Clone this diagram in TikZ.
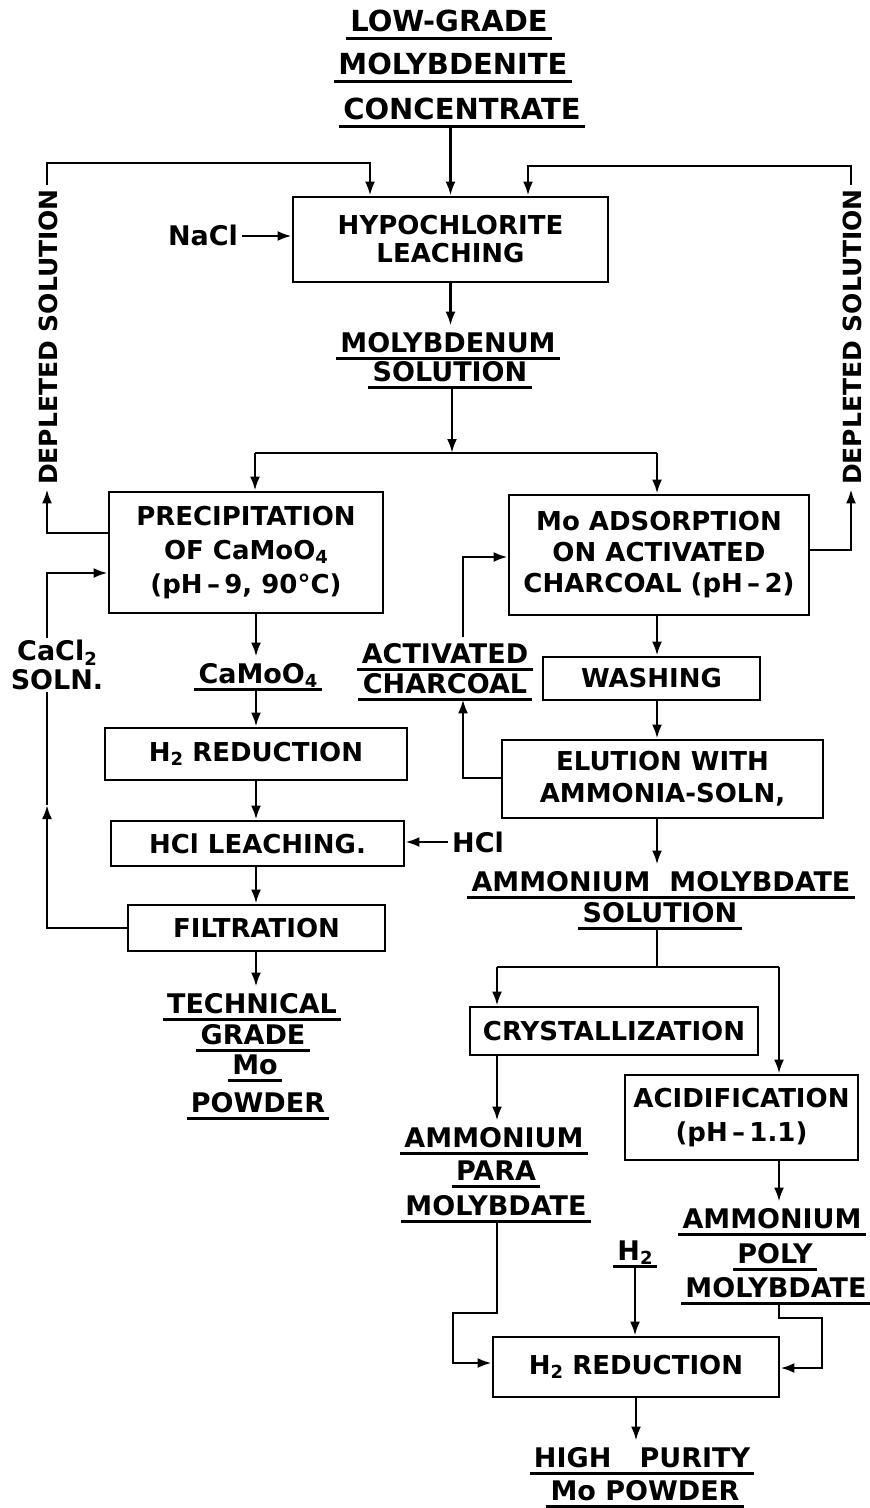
\documentclass[tikz,border=0pt]{standalone}
\usepackage{fontspec}
\setmainfont{DejaVu Sans}
\usetikzlibrary{arrows.meta}
\newcommand\sbs[1]{\raisebox{-0.3ex}{\fontsize{9}{9}\selectfont #1}}
\begin{document}
\begin{tikzpicture}[x=0.5pt,y=-0.5pt,
  line/.style={line width=1.3pt},
  arr/.style={line width=1.3pt,-{Latex[length=7pt,width=5pt]}},
  ul/.style={line width=1.4pt},
  box/.style={draw,line width=1.4pt,align=center,inner sep=0pt,font=\fontsize{13}{16}\selectfont\bfseries},
  lab/.style={anchor=base,inner xsep=2pt,inner ysep=3pt,text depth=0pt,text height=10pt,font=\fontsize{13.5}{16}\selectfont\bfseries},
  ttl/.style={lab,font=\fontsize{14.5}{17}\selectfont\bfseries}]
\useasboundingbox (0,0) rectangle (869,1508);
% boxes
\node[box,minimum width=157.5pt,minimum height=42.5pt,font=\fontsize{13}{14}\selectfont\bfseries] (hyp) at (450.5,239.5) {HYPOCHLORITE\\LEACHING};
\node[box,minimum width=137pt,minimum height=60.5pt,font=\fontsize{13}{17}\selectfont\bfseries] (prec) at (246,552.5) {PRECIPITATION\\OF CaMoO\sbs{4}\\(pH\,–\,9, 90°C)};
\node[box,minimum width=150pt,minimum height=60pt,font=\fontsize{13}{15.5}\selectfont\bfseries] (ads) at (659,555) {Mo ADSORPTION\\ON ACTIVATED\\CHARCOAL (pH\,–\,2)};
\node[box,minimum width=151pt,minimum height=26pt] (h2a) at (256,754) {H\sbs{2} REDUCTION};
\node[box,minimum width=146.5pt,minimum height=22.5pt] (hcl) at (257.5,843.5) {HCl LEACHING.};
\node[box,minimum width=128.5pt,minimum height=23pt] (filt) at (256.5,928) {FILTRATION};
\node[box,minimum width=108.5pt,minimum height=21.5pt] (wash) at (651.5,678.5) {WASHING};
\node[box,minimum width=160.5pt,minimum height=39pt] (elu) at (662.5,779) {ELUTION WITH\\AMMONIA-SOLN,};
\node[box,minimum width=144pt,minimum height=24pt] (cryst) at (614,1031) {CRYSTALLIZATION};
\node[box,minimum width=116.5pt,minimum height=42.5pt,font=\fontsize{13}{17}\selectfont\bfseries] (acid) at (741.5,1117.5) {ACIDIFICATION\\(pH\,–\,1.1)};
\node[box,minimum width=143pt,minimum height=30pt] (h2b) at (636,1367) {H\sbs{2} REDUCTION};
% labels
\node[ttl] (t1) at (449,32) {LOW-GRADE};
\node[ttl] (t2) at (453,75) {MOLYBDENITE};
\node[ttl] (t3) at (462,120) {CONCENTRATE};
\node[lab] (nacl) at (203,246) {NaCl};
\node[lab] (m1) at (448,352) {MOLYBDENUM};
\node[lab] (m2) at (450,381) {SOLUTION};
\node[lab,rotate=90,anchor=center,font=\fontsize{12.5}{15}\selectfont\bfseries] (depL) at (47,337) {DEPLETED SOLUTION};
\node[lab,rotate=90,anchor=center,font=\fontsize{12.5}{15}\selectfont\bfseries] (depR) at (851,337) {DEPLETED SOLUTION};
\node[align=center,inner sep=1pt,font=\fontsize{13.5}{14.5}\selectfont\bfseries] (cacl) at (57,665) {CaCl\sbs{2}\\SOLN.};
\node[lab] (cm) at (258,683) {CaMoO\sbs{4}};
\node[lab] (ac1) at (445,663) {ACTIVATED};
\node[lab] (ac2) at (445,693) {CHARCOAL};
\node[lab] (hcltxt) at (478,852) {HCl};
\node[lab] (tg1) at (252,1013) {TECHNICAL};
\node[lab] (tg2) at (253,1044) {GRADE};
\node[lab] (tg3) at (255,1074) {Mo};
\node[lab] (tg4) at (258,1112) {POWDER};
\node[lab] (am1) at (661,891) {AMMONIUM\ \ MOLYBDATE};
\node[lab] (am2) at (660,922) {SOLUTION};
\node[lab] (pa1) at (494,1147) {AMMONIUM};
\node[lab] (pa2) at (496,1180) {PARA};
\node[lab] (pa3) at (496,1215) {MOLYBDATE};
\node[lab] (po1) at (772,1228) {AMMONIUM};
\node[lab] (po2) at (775,1263) {POLY};
\node[lab] (po3) at (776,1297) {MOLYBDATE};
\node[lab] (h2l) at (635,1260) {H\sbs{2}};
\node[lab] (hp1) at (642,1467) {HIGH\ \ \ PURITY};
\node[lab] (hp2) at (645,1500) {Mo POWDER};
\foreach \n in {t1,t2,t3,m1,m2,cm,ac1,ac2,tg1,tg2,tg3,tg4,am1,am2,pa1,pa2,pa3,po1,po2,po3,h2l,hp1,hp2}
  \draw[ul] (\n.south west) -- (\n.south east);
% coordinates
\coordinate (cL) at (256,0);
\coordinate (cR) at (657,0);
\coordinate (j1) at (452,453);
\coordinate (j1L) at (255,453);
\coordinate (j1R) at (657,453);
\coordinate (dl) at (0,533);
\coordinate (dr) at (0,550);
\coordinate (topL) at (370,163);
\coordinate (topR) at (528,166);
\coordinate (cmid) at (47,805);
\coordinate (cin) at (0,573);
\coordinate (acx) at (463,0);
\coordinate (ay1) at (0,778);
\coordinate (ay2) at (0,557);
\coordinate (j2) at (657,967);
\coordinate (j2L) at (497,967);
\coordinate (j2R) at (779,967);
\coordinate (lp1) at (453,1313);
\coordinate (lp2) at (453,1363);
\coordinate (rp1) at (822,1318);
\coordinate (rp2) at (822,1368);
% connectors
\draw[arr] (t3.south -| hyp.north) -- (hyp.north);
\draw[arr] (nacl.east) -- (nacl.east -| hyp.west);
\draw[arr] (hyp.south) -- (hyp.south |- m1.north);
\draw[arr] (m2.south -| j1) -- (j1);
\draw[line] (j1L) -- (j1R);
\draw[arr] (j1L) -- (j1L |- prec.north);
\draw[arr] (j1R) -- (j1R |- ads.north);
\draw[arr] (prec.west |- dl) -| (depL.west);
\draw[arr] (depL.east) |- (topL) -- (topL |- hyp.north);
\draw[arr] (ads.east |- dr) -| (depR.west);
\draw[arr] (depR.east) |- (topR) -- (topR |- hyp.north);
\draw[arr] (filt.west) -| (cmid);
\draw[line] (cmid) -- (cmid |- cacl.south);
\draw[arr] (cacl.north -| cmid) |- (prec.west |- cin);
\draw[arr] (prec.south -| cL) -- (cm.north -| cL);
\draw[arr] (cm.south -| cL) -- (h2a.north -| cL);
\draw[arr] (h2a.south -| cL) -- (hcl.north -| cL);
\draw[arr] (hcltxt.west) -- (hcltxt.west -| hcl.east);
\draw[arr] (hcl.south -| cL) -- (filt.north -| cL);
\draw[arr] (filt.south -| cL) -- (tg1.north -| cL);
\draw[arr] (ads.south -| cR) -- (wash.north -| cR);
\draw[arr] (wash.south -| cR) -- (elu.north -| cR);
\draw[arr] (elu.south -| cR) -- (am1.north -| cR);
\draw[arr] (elu.west |- ay1) -| (ac2.south -| acx);
\draw[arr] (ac1.north -| acx) |- (ads.west |- ay2);
\draw[line] (am2.south -| j2) -- (j2);
\draw[line] (j2L) -- (j2R);
\draw[arr] (j2L) -- (j2L |- cryst.north);
\draw[arr] (j2R) -- (j2R |- acid.north);
\draw[arr] (cryst.south -| j2L) -- (pa1.north -| j2L);
\draw[arr] (acid.south -| j2R) -- (po1.north -| j2R);
\draw[arr] (h2l.south) -- (h2l.south |- h2b.north);
\draw[arr] (pa3.south -| j2L) |- (lp1) |- (h2b.west |- lp2);
\draw[arr] (po3.south -| j2R) |- (rp1) |- (h2b.east |- rp2);
\draw[arr] (h2b.south) -- (h2b.south |- hp1.north);
\end{tikzpicture}
\end{document}
